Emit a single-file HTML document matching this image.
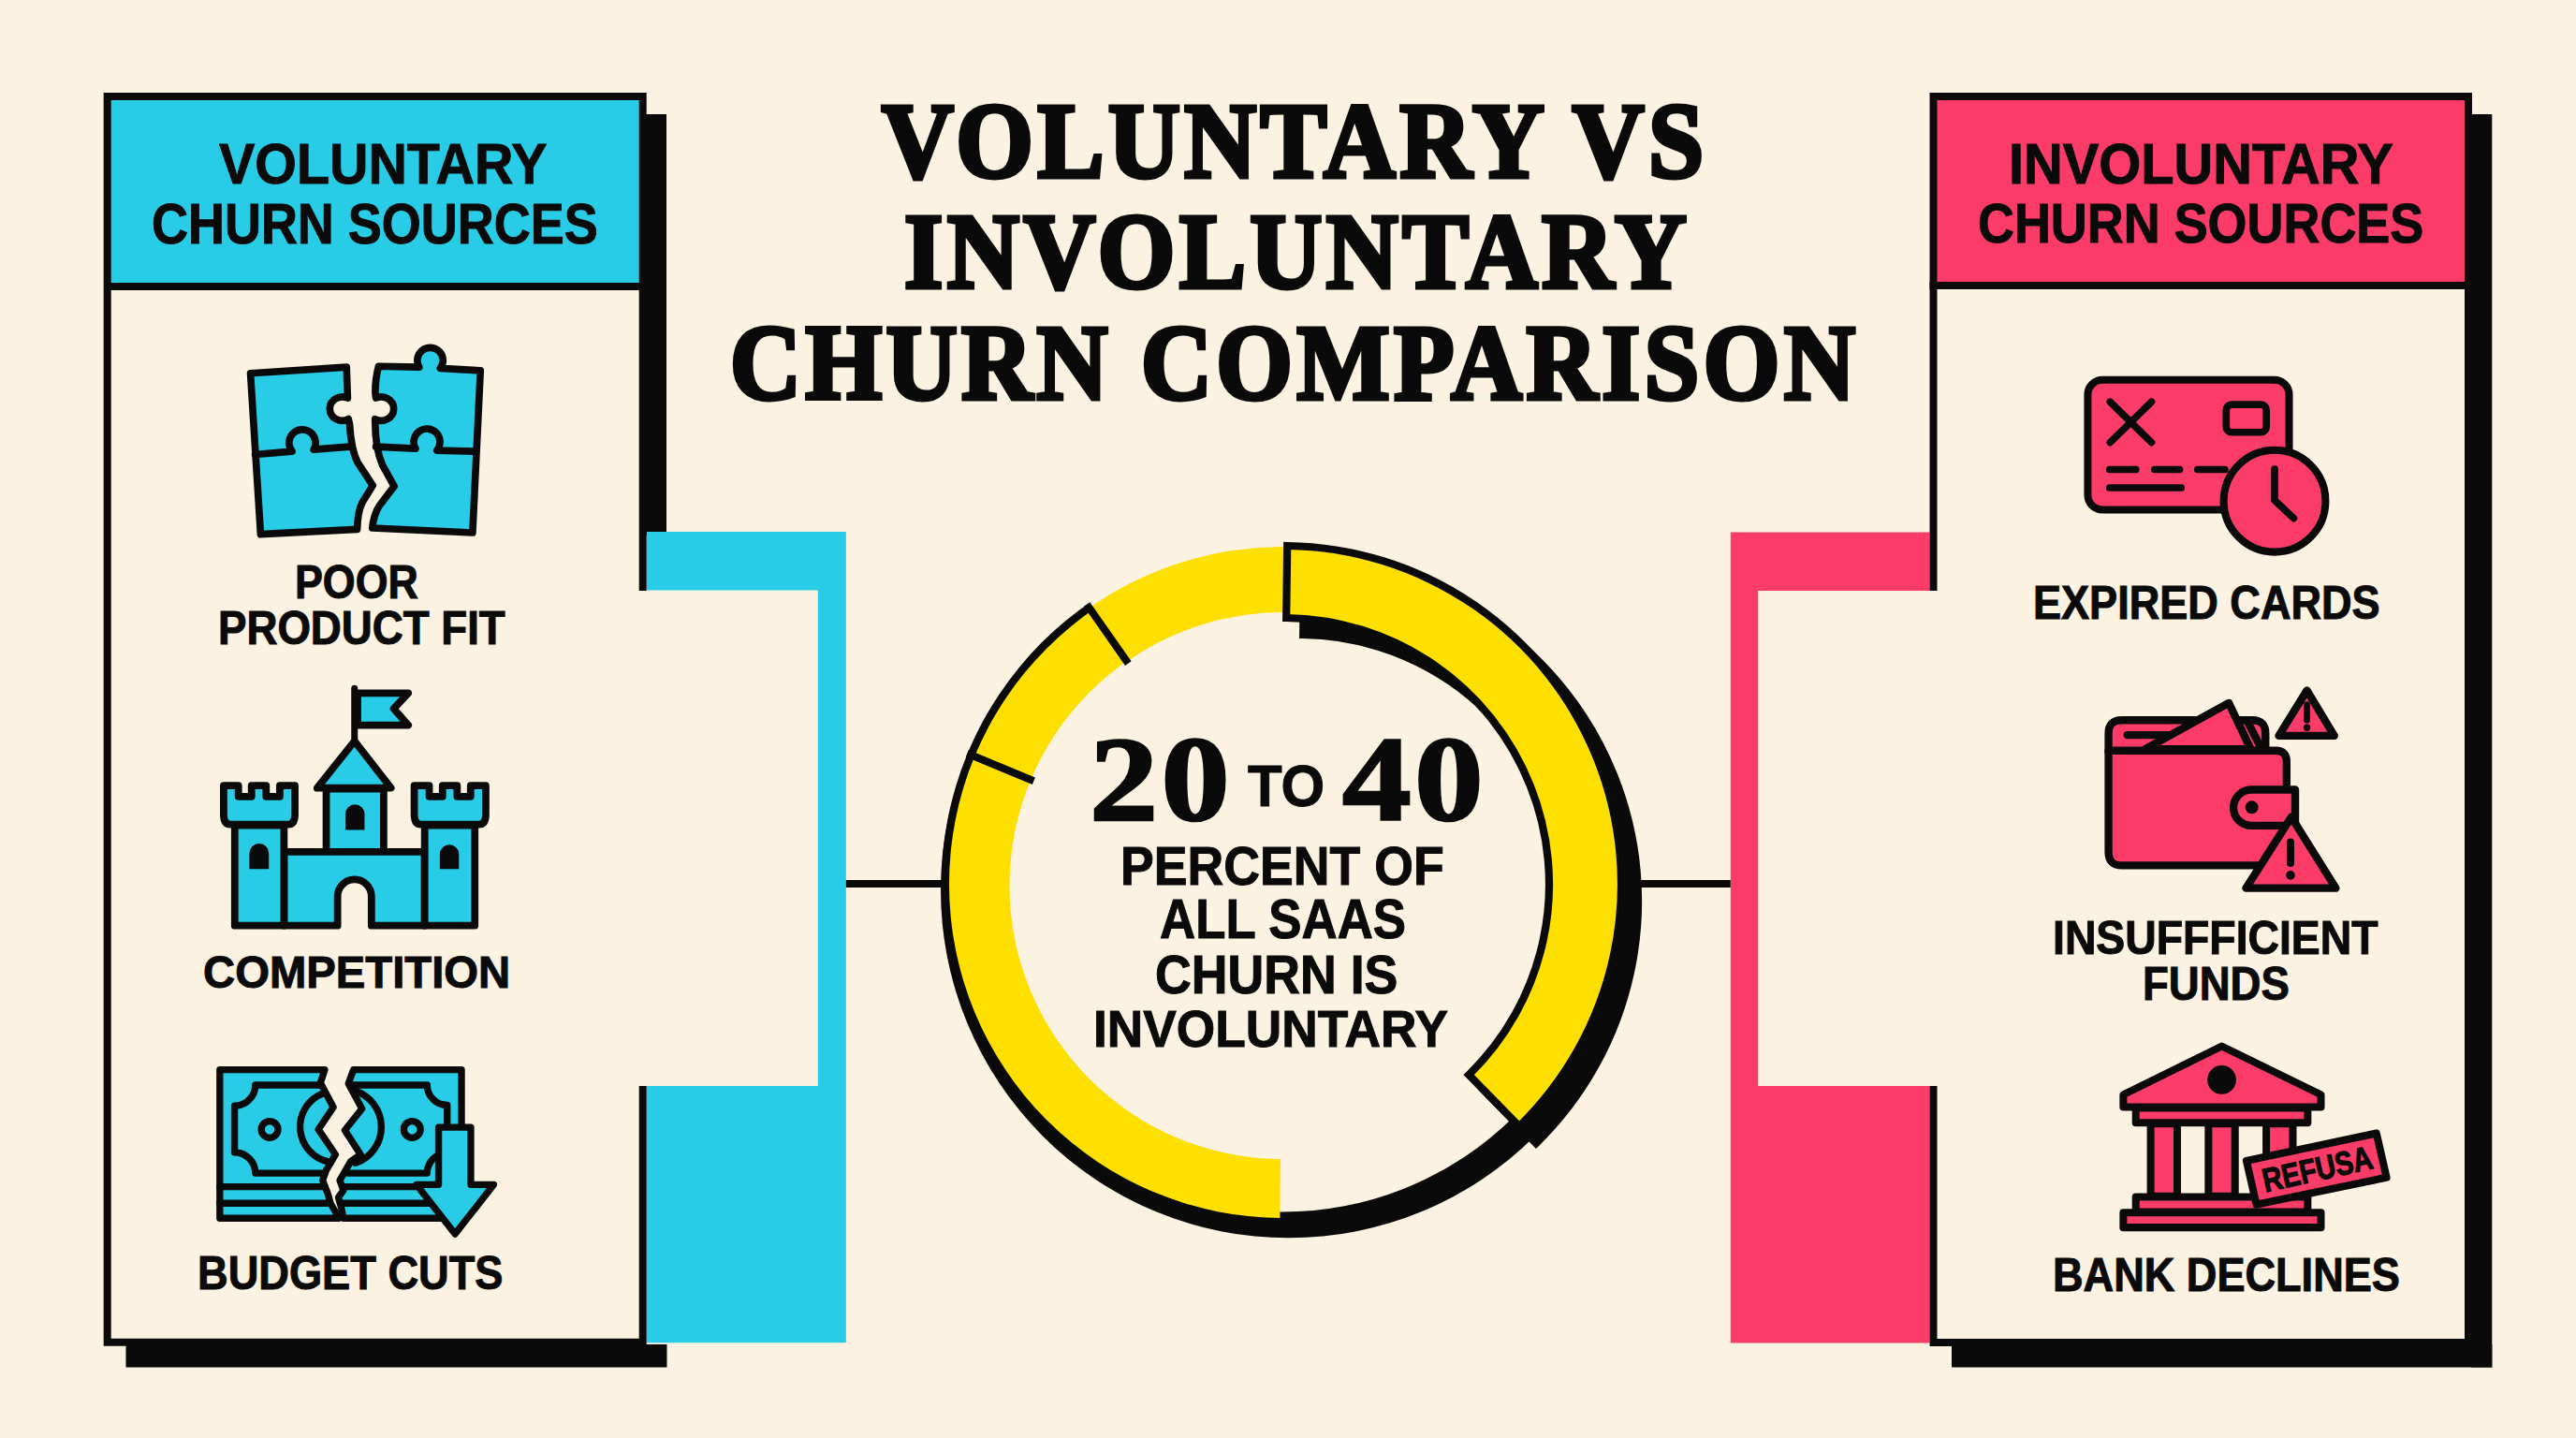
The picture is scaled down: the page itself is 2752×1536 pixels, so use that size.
<!DOCTYPE html>
<html><head><meta charset="utf-8"><title>Voluntary vs Involuntary Churn Comparison</title>
<style>
html,body{margin:0;padding:0}
body{width:2752px;height:1536px;background:#FCF2E2;position:relative;overflow:hidden;font-family:"Liberation Sans",sans-serif}
svg.main{position:absolute;left:0;top:0}
.t{position:absolute;white-space:nowrap;font-weight:bold;color:#0A0A0A;transform-origin:0 0}
</style></head><body>
<svg class="main" width="2752" height="1536" viewBox="0 0 2752 1536">
<rect x="690" y="122" width="22" height="450" fill="#0A0A0A"/>
<rect x="134.5" y="1436" width="578" height="24.5" fill="#0A0A0A"/>
<path d="M690.7 568H903.8V1434.3H690.7V1160H873.8V630.5H690.7Z" fill="#28CCE6"/>
<rect x="118" y="106" width="565" height="197" fill="#28CCE6"/>
<path d="M686.7 631V103H114.7V1433.8H686.7V1160" fill="none" stroke="#0A0A0A" stroke-width="8"/>
<path d="M111 306H690.7" stroke="#0A0A0A" stroke-width="8"/>
<rect x="2640" y="122" width="22.3" height="1338.5" fill="#0A0A0A"/>
<rect x="2085" y="1436" width="577.3" height="24.5" fill="#0A0A0A"/>
<path d="M2061.5 568.6H1848.8V1434.5H2061.5V1160H1878.2V631H2061.5Z" fill="#FC3C68"/>
<rect x="2068" y="106" width="566" height="197" fill="#FC3C68"/>
<path d="M2065.5 631V103H2637V1434H2065.5V1160" fill="none" stroke="#0A0A0A" stroke-width="8"/>
<path d="M2061.5 305H2641" stroke="#0A0A0A" stroke-width="8"/>
<path d="M903.8 944H1010M1750 944H1848.8" stroke="#0A0A0A" stroke-width="8"/>
<defs><clipPath id="wedge"><polygon points="1370.5,944.5 1907.9,1481.9 1370.5,1704.5 833.1,1481.9 610.5,944.5 833.1,407.1 934.6,321.9"/></clipPath>
<clipPath id="wedgeA"><polygon points="1370.5,944.5 1363.9,1704.5 833.1,1481.9 610.5,944.5 833.1,407.1 934.6,321.9"/></clipPath></defs>
<g clip-path="url(#wedge)">
<circle cx="1376.8" cy="950.5" r="371.8" fill="#0A0A0A"/>
<circle cx="1370.5" cy="944.5" r="364.7" fill="#0A0A0A"/>
</g>
<circle cx="1370.5" cy="944.5" r="355.8" fill="#FCF2E2"/>
<path d="M1625.1 1199.1A360 360 0 0 1 1366.7 1304.5L1366.8 1294.5A350 350 0 0 0 1618.0 1192.0Z" fill="#0A0A0A"/>
<path clip-path="url(#wedgeA)" fill-rule="evenodd" fill="#FDE000" d="M1014.0 944.5A356.5 356.5 0 1 0 1727.0 944.5A356.5 356.5 0 1 0 1014.0 944.5ZM1078.5 946A292 292 0 1 0 1662.5 946A292 292 0 1 0 1078.5 946Z"/>
<path d="M1161.2 651.0A360.5 360.5 0 0 1 1373.6 584.0L1373.0 654.0A290.5 290.5 0 0 0 1201.8 708.0Z" fill="#FDE000"/>
<path d="M1104.4 834.3L1033.3 804.8" stroke="#0A0A0A" stroke-width="8"/>
<path d="M1205.3 708.6L1161.1 645.5" stroke="#0A0A0A" stroke-width="8"/>
<path d="M1375.2 583.0A361.5 361.5 0 0 1 1623.0 1203.2L1569.2 1148.1A284.5 284.5 0 0 0 1374.2 660.0Z" fill="#0A0A0A" stroke="#0A0A0A" stroke-width="8.2" stroke-linejoin="miter" transform="translate(18,18)"/>
<path d="M1375.2 583.0A361.5 361.5 0 0 1 1623.0 1203.2L1569.2 1148.1A284.5 284.5 0 0 0 1374.2 660.0Z" fill="#FDE000" stroke="#0A0A0A" stroke-width="8.2" stroke-linejoin="miter"/>
<svg x="240" y="350" width="320" height="240" viewBox="0 0 1917 1438">
<g fill="#28CCE6" stroke="#0A0A0A" stroke-width="46" stroke-linejoin="round" stroke-linecap="round">
<path d="M165 292L780 252L787 450A80 76 0 1 0 792 585L800 620C805 700 820 800 850 860L948 1010L880 1120C860 1160 850 1230 848 1290L230 1322Z"/>
<path d="M985 247L1245 252A82 82 0 1 1 1380 260L1637 275L1587 1312L945 1282C950 1230 965 1180 990 1140L1085 1015L1010 880C975 800 962 700 963 585A80 76 0 1 0 968 450L965 425C962 380 972 300 985 247Z"/>
<path d="M195 812L432 792A85 85 0 1 1 570 780L800 762" fill="none"/>
<path d="M968 762L1222 774A84 84 0 1 1 1358 786L1608 792" fill="none"/>
</g></svg>
<svg x="220" y="720" width="320" height="280" viewBox="0 0 1643 1438">
<g fill="#28CCE6" stroke="#0A0A0A" stroke-width="40" stroke-linejoin="round" stroke-linecap="round">
<path d="M815 78V370" fill="none" stroke-width="36"/>
<path d="M832 105H1110L1030 190L1110 280H832Z"/>
<path d="M815 368L1015 625H610Z"/>
<rect x="660" y="630" width="315" height="345"/>
<path d="M428 975H1200V1380H908V1220A93 93 0 0 0 722 1220V1380H428Z"/>
<rect x="158" y="830" width="270" height="550"/>
<rect x="1200" y="830" width="275" height="550"/>
<path d="M97 612H178V672H250V612H330V672H405V612H488V770Q488 825 450 825H135Q97 825 97 770Z"/>
<path d="M1143 612H1225V672H1298V612H1378V672H1452V612H1535V770Q1535 825 1497 825H1181Q1143 825 1143 770Z"/>
</g>
<g fill="#0A0A0A">
<path d="M765 855V768A52 52 0 0 1 870 768V855Z"/>
<path d="M238 1070V983A53 53 0 0 1 345 983V1070Z"/>
<path d="M1283 1070V988A52 52 0 0 1 1388 988V1070Z"/>
</g></svg>
<svg x="220" y="1120" width="320" height="220" viewBox="0 0 2092 1438">
<g fill="#28CCE6" stroke="#0A0A0A" stroke-width="48" stroke-linejoin="round" stroke-linecap="round">
<path d="M97 148H830L800 240L890 410L785 565L905 740L840 850L815 920L850 1010L870 1080L930 1185H97Z"/>
<path d="M1030 148H1785V1185H960L945 1110L925 1040L960 990L935 920L1010 790L1080 740L970 570L1090 420L995 245Z"/>
<g fill="none">
<path d="M97 965H830M97 1080H862M960 965H1500M950 1080H1580"/>
<path d="M800 255H345A145 145 0 0 1 200 400V725A145 145 0 0 1 345 870H830"/>
<path d="M1010 255H1545A140 140 0 0 0 1685 395V730A140 140 0 0 0 1545 870H990"/>
<path d="M820 312A250 250 0 0 0 862 792"/>
<path d="M1035 292A267 267 0 0 1 1045 800"/>
</g>
<circle cx="445" cy="565" r="58"/><circle cx="1440" cy="565" r="58"/>
<path d="M1625 550H1850V950H2010L1740 1295L1470 950H1625Z"/>
</g></svg>
<svg x="2200" y="380" width="320" height="240" viewBox="0 0 1917 1438">
<g fill="#FC3C68" stroke="#0A0A0A" stroke-width="48" stroke-linejoin="round" stroke-linecap="round">
<rect x="182" y="154" width="1289" height="832" rx="95"/>
<path d="M325 295L590 555M590 295L325 555" fill="none" stroke-width="46"/>
<rect x="1068" y="312" width="257" height="178" rx="35" stroke-width="46"/>
<path d="M322 728H490M610 728H770M885 728H1060M322 845H780" fill="none" stroke-width="46"/>
<circle cx="1378" cy="930" r="326"/>
<path d="M1378 725V925L1500 1040" fill="none" stroke-width="46"/>
</g></svg>
<svg x="2220" y="730" width="320" height="240" viewBox="0 0 1917 1438">
<g fill="#FC3C68" stroke="#0A0A0A" stroke-width="50" stroke-linejoin="round" stroke-linecap="round">
<path d="M195 440V320Q195 235 280 235H1115Q1200 235 1200 320V440Z"/>
<path d="M315 330H600" fill="none"/>
<path d="M1085 245L1170 410" fill="none"/>
<path d="M430 420L965 125L1105 420Z"/>
<path d="M195 430H1265Q1335 430 1335 500V1165H280Q195 1165 195 1080Z"/>
<path d="M1390 680H1110A115 115 0 0 0 1110 910H1390Z"/>
<path d="M1465 45L1640 335H1285Z"/>
<path d="M1365 855L1650 1310H1075Z"/>
</g>
<g fill="#0A0A0A" stroke="#0A0A0A" stroke-linecap="round">
<circle cx="1112" cy="793" r="42" stroke="none"/>
<path d="M1465 135V235" stroke-width="40" fill="none"/><circle cx="1465" cy="283" r="22" stroke="none"/>
<path d="M1360 1015V1150" stroke-width="48" fill="none"/><circle cx="1360" cy="1228" r="29" stroke="none"/>
</g></svg>
<svg x="2240" y="1100" width="340" height="240" viewBox="0 0 2037 1438">
<g fill="#FC3C68" stroke="#0A0A0A" stroke-width="48" stroke-linejoin="round" stroke-linecap="round">
<rect x="345" y="600" width="170" height="465"/>
<rect x="715" y="600" width="170" height="465"/>
<rect x="1085" y="600" width="170" height="465"/>
<path d="M800 105L1435 415V495H170V415Z"/>
<rect x="250" y="500" width="1100" height="95"/>
<rect x="250" y="1070" width="1100" height="95"/>
<rect x="170" y="1170" width="1265" height="95"/>
<path d="M958 838L1790 662L1855 945L1022 1118Z"/>
</g>
<circle cx="800" cy="320" r="92" fill="#0A0A0A"/>
<text x="1412" y="964" text-anchor="middle" transform="rotate(-12.5 1412 890)" font-family="Liberation Sans, sans-serif" font-weight="bold" font-size="212" textLength="715" stroke="#0A0A0A" stroke-width="7" lengthAdjust="spacingAndGlyphs" fill="#0A0A0A">REFUSA</text>
</svg>
</svg>
<div class="t" style="left:942.3px;top:92.5px;font-size:115.1px;line-height:115.1px;font-family:'Liberation Serif',serif;transform:scaleX(0.9229);-webkit-text-stroke:5px #0A0A0A;letter-spacing:5px">VOLUNTARY VS</div>
<div class="t" style="left:966.1px;top:212.1px;font-size:114.4px;line-height:114.4px;font-family:'Liberation Serif',serif;transform:scaleX(0.9290);-webkit-text-stroke:5px #0A0A0A;letter-spacing:5px">INVOLUNTARY</div>
<div class="t" style="left:780.3px;top:331.7px;font-size:113.6px;line-height:113.6px;font-family:'Liberation Serif',serif;transform:scaleX(0.9242);-webkit-text-stroke:5px #0A0A0A;letter-spacing:5px">CHURN COMPARISON</div>
<div class="t" style="left:233.9px;top:144.6px;font-size:61.0px;line-height:61.0px;font-family:'Liberation Sans',sans-serif;transform:scaleX(0.9406);-webkit-text-stroke:1px #0A0A0A">VOLUNTARY</div>
<div class="t" style="left:162.2px;top:208.6px;font-size:61.0px;line-height:61.0px;font-family:'Liberation Sans',sans-serif;transform:scaleX(0.8845);-webkit-text-stroke:1px #0A0A0A">CHURN SOURCES</div>
<div class="t" style="left:315.3px;top:596.9px;font-size:49.3px;line-height:49.3px;font-family:'Liberation Sans',sans-serif;transform:scaleX(0.9078);-webkit-text-stroke:1px #0A0A0A">POOR</div>
<div class="t" style="left:233.3px;top:647.1px;font-size:49.1px;line-height:49.1px;font-family:'Liberation Sans',sans-serif;transform:scaleX(0.9294);-webkit-text-stroke:1px #0A0A0A">PRODUCT FIT</div>
<div class="t" style="left:217.2px;top:1014.0px;font-size:48.7px;line-height:48.7px;font-family:'Liberation Sans',sans-serif;transform:scaleX(0.9707);-webkit-text-stroke:1px #0A0A0A">COMPETITION</div>
<div class="t" style="left:210.6px;top:1336.0px;font-size:49.7px;line-height:49.7px;font-family:'Liberation Sans',sans-serif;transform:scaleX(0.9099);-webkit-text-stroke:1px #0A0A0A">BUDGET CUTS</div>
<div class="t" style="left:2145.7px;top:145.1px;font-size:60.4px;line-height:60.4px;font-family:'Liberation Sans',sans-serif;transform:scaleX(0.9567);-webkit-text-stroke:1px #0A0A0A">INVOLUNTARY</div>
<div class="t" style="left:2112.8px;top:209.2px;font-size:59.9px;line-height:59.9px;font-family:'Liberation Sans',sans-serif;transform:scaleX(0.9002);-webkit-text-stroke:1px #0A0A0A">CHURN SOURCES</div>
<div class="t" style="left:2171.8px;top:619.1px;font-size:49.4px;line-height:49.4px;font-family:'Liberation Sans',sans-serif;transform:scaleX(0.9124);-webkit-text-stroke:1px #0A0A0A">EXPIRED CARDS</div>
<div class="t" style="left:2193.0px;top:976.7px;font-size:50.3px;line-height:50.3px;font-family:'Liberation Sans',sans-serif;transform:scaleX(0.9214);-webkit-text-stroke:1px #0A0A0A">INSUFFFICIENT</div>
<div class="t" style="left:2288.7px;top:1027.1px;font-size:49.7px;line-height:49.7px;font-family:'Liberation Sans',sans-serif;transform:scaleX(0.9162);-webkit-text-stroke:1px #0A0A0A">FUNDS</div>
<div class="t" style="left:2193.4px;top:1336.7px;font-size:49.3px;line-height:49.3px;font-family:'Liberation Sans',sans-serif;transform:scaleX(0.9150);-webkit-text-stroke:1px #0A0A0A">BANK DECLINES</div>
<div class="t" style="left:1164.0px;top:768.5px;font-size:128.7px;line-height:128.7px;font-family:'Liberation Serif',serif;transform:scaleX(1.1371);-webkit-text-stroke:2.5px #0A0A0A;letter-spacing:3px">20</div>
<div class="t" style="left:1332.5px;top:808.1px;font-size:63.8px;line-height:63.8px;font-family:'Liberation Sans',sans-serif;transform:scaleX(0.9412);-webkit-text-stroke:1px #0A0A0A">TO</div>
<div class="t" style="left:1434.2px;top:768.5px;font-size:128.7px;line-height:128.7px;font-family:'Liberation Serif',serif;transform:scaleX(1.1445);-webkit-text-stroke:2.5px #0A0A0A;letter-spacing:3px">40</div>
<div class="t" style="left:1197.4px;top:896.6px;font-size:57.7px;line-height:57.7px;font-family:'Liberation Sans',sans-serif;transform:scaleX(0.9297);-webkit-text-stroke:1px #0A0A0A">PERCENT OF</div>
<div class="t" style="left:1239.4px;top:953.4px;font-size:58.4px;line-height:58.4px;font-family:'Liberation Sans',sans-serif;transform:scaleX(0.9042);-webkit-text-stroke:1px #0A0A0A">ALL SAAS</div>
<div class="t" style="left:1233.6px;top:1012.5px;font-size:57.5px;line-height:57.5px;font-family:'Liberation Sans',sans-serif;transform:scaleX(0.9332);-webkit-text-stroke:1px #0A0A0A">CHURN IS</div>
<div class="t" style="left:1168.4px;top:1071.3px;font-size:56.2px;line-height:56.2px;font-family:'Liberation Sans',sans-serif;transform:scaleX(0.9485);-webkit-text-stroke:1px #0A0A0A">INVOLUNTARY</div>
</body></html>
